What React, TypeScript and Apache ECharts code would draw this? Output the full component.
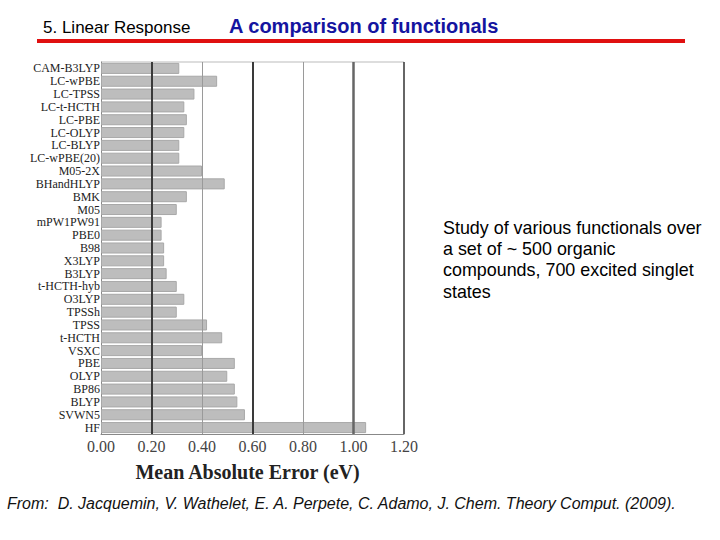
import React, { useEffect, useRef } from "react";
import * as echarts from "echarts";

const categories = [
  "CAM-B3LYP", "LC-wPBE", "LC-TPSS", "LC-t-HCTH", "LC-PBE", "LC-OLYP", "LC-BLYP", "LC-wPBE(20)",
  "M05-2X", "BHandHLYP", "BMK", "M05", "mPW1PW91", "PBE0", "B98", "X3LYP", "B3LYP", "t-HCTH-hyb",
  "O3LYP", "TPSSh", "TPSS", "t-HCTH", "VSXC", "PBE", "OLYP", "BP86", "BLYP", "SVWN5", "HF",
];
const maeValues = [
  0.31, 0.46, 0.37, 0.33, 0.34, 0.33, 0.31, 0.31,
  0.40, 0.49, 0.34, 0.30, 0.24, 0.24, 0.25, 0.25, 0.26, 0.30,
  0.33, 0.30, 0.42, 0.48, 0.40, 0.53, 0.50, 0.53, 0.54, 0.57, 1.05,
];
const gridValues = [0.2, 0.4, 0.6, 0.8, 1.0, 1.2];
const gridColors = ["#3a3a3a", "#9a9a9a", "#3a3a3a", "#9a9a9a", "#666666", "#333333"];
const gridWidths = [2, 1, 2, 1, 2.5, 1.5];

export default function App() {
  const ref = useRef<HTMLDivElement>(null);
  useEffect(() => {
    if (!ref.current) return;
    const chart = echarts.init(ref.current, null, { renderer: "svg" });
    chart.setOption({
      animation: false,
      backgroundColor: "#ffffff",
      grid: { left: 101, top: 62, width: 303, height: 372, containLabel: false },
      xAxis: {
        type: "value",
        min: 0,
        max: 1.2,
        interval: 0.2,
        axisLine: { show: true, lineStyle: { color: "#888", width: 1 } },
        axisTick: { show: false },
        splitLine: { show: false },
        axisLabel: {
          formatter: (v: number) => v.toFixed(2),
          fontFamily: "Liberation Serif",
          fontSize: 16,
          color: "#444",
          margin: 4,
        },
        name: "Mean Absolute Error (eV)",
        nameLocation: "middle",
        nameGap: 28,
        nameTextStyle: {
          fontFamily: "Liberation Serif",
          fontWeight: "bold",
          fontSize: 20,
          color: "#222",
          padding: [0, 10, 0, 0],
        },
      },
      yAxis: {
        type: "category",
        data: categories,
        inverse: true,
        axisLine: { show: true, lineStyle: { color: "#888", width: 1 } },
        axisTick: { show: false },
        axisLabel: {
          interval: 0,
          fontFamily: "Liberation Serif",
          fontSize: 12,
          lineHeight: 12,
          color: "#222",
          margin: 1,
        },
      },
      series: [
        {
          type: "bar",
          data: maeValues,
          barCategoryGap: "14%",
          itemStyle: { color: "#bdbdbd", borderColor: "#a8a8a8", borderWidth: 1 },
          markLine: {
            silent: true,
            symbol: "none",
            label: { show: false },
            z: 10,
            data: gridValues.map((v, i) => ({
              xAxis: v,
              lineStyle: { color: gridColors[i], width: gridWidths[i], type: "solid" },
            })),
          },
        },
      ],
      graphic: [
        {
          type: "line",
          shape: { x1: 101, y1: 62, x2: 404, y2: 62 },
          style: { stroke: "#bbb", lineWidth: 1 },
        },
        {
          type: "text",
          x: 43,
          y: 27,
          style: {
            text: "5. Linear Response",
            font: "17px 'Liberation Sans', Arial, sans-serif",
            fill: "#000",
            textVerticalAlign: "middle",
          },
        },
        {
          type: "text",
          x: 229,
          y: 26,
          style: {
            text: "A comparison of functionals",
            font: "bold 20px 'Liberation Sans', Arial, sans-serif",
            fill: "#1414a0",
            textVerticalAlign: "middle",
          },
        },
        {
          type: "rect",
          shape: { x: 37, y: 39, width: 648, height: 4 },
          style: { fill: "#e01010" },
        },
        {
          type: "text",
          x: 443,
          y: 217,
          style: {
            text: "Study of various functionals over\na set of ~ 500 organic\ncompounds, 700 excited singlet\nstates",
            font: "17.9px 'Liberation Sans', Arial, sans-serif",
            lineHeight: 21.3,
            fill: "#000",
          },
        },
        {
          type: "text",
          x: 7,
          y: 503,
          style: {
            text: "From:  D. Jacquemin, V. Wathelet, E. A. Perpete, C. Adamo, J. Chem. Theory Comput. (2009).",
            font: "italic 16px 'Liberation Sans', Arial, sans-serif",
            fill: "#111",
            textVerticalAlign: "middle",
          },
        },
      ],
    });
    return () => chart.dispose();
  }, []);
  return (
    <div
      ref={ref}
      style={{ position: "fixed", left: 0, top: 0, width: 720, height: 540, background: "#fff" }}
    />
  );
}
